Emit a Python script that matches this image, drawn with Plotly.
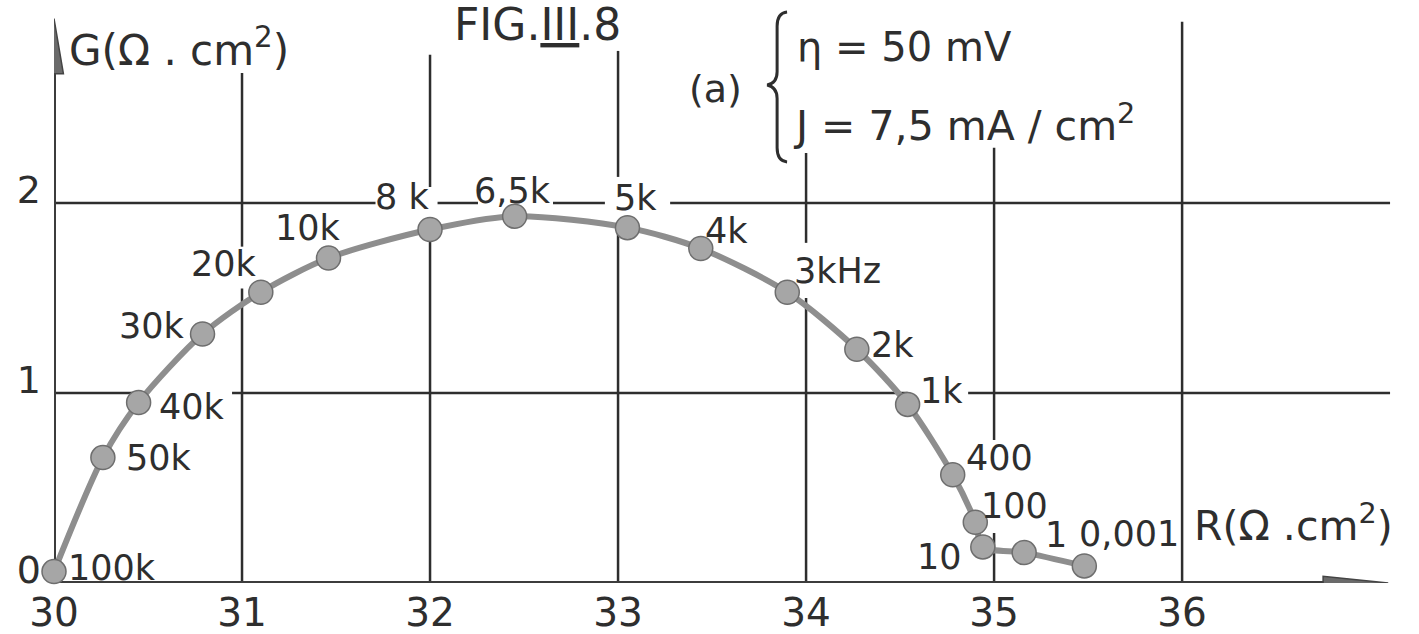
import plotly.graph_objects as go

# impedance diagram, FIG. III.8 (a)
freq_labels = ["100k", "50k", "40k", "30k", "20k", "10k", "8 k", "6,5k", "5k", "4k",
               "3kHz", "2k", "1k", "400", "100", "10", "1", "0,001"]
R_vals = [30.0, 30.26, 30.45, 30.79, 31.10, 31.46, 32.0, 32.45, 33.05, 33.44,
          33.90, 34.27, 34.54, 34.78, 34.90, 34.94, 35.16, 35.48]
G_vals = [0.06, 0.66, 0.95, 1.31, 1.53, 1.71, 1.86, 1.93, 1.87, 1.76,
          1.53, 1.23, 0.94, 0.57, 0.32, 0.19, 0.16, 0.09]
x_ticks = [30, 31, 32, 33, 34, 35, 36]
y_ticks = [0, 1, 2]

FONT = "DejaVu Sans"
INK = "#2e2e2e"

fig = go.Figure()
fig.add_trace(go.Scatter(
    x=R_vals, y=G_vals, mode="lines+markers",
    line=dict(color="#8e8e8e", width=6, shape="spline", smoothing=0.8),
    marker=dict(size=24, color="#a6a6a6", line=dict(color="#6e6e6e", width=1.5)),
    cliponaxis=False, showlegend=False, hoverinfo="skip"))

# label placement next to each point: (xanchor, xshift px, yshift px)
label_offsets = [("left", 13, 4), ("left", 22, 0), ("left", 19, -5), ("right", -17, 8),
                 ("right", -3, 28), ("center", -21, 30), ("right", 0, 33), ("center", -2, 25),
                 ("center", 8, 30), ("center", 26, 18), ("left", 6, 21), ("left", 13, 4),
                 ("left", 11, 13), ("left", 12, 17), ("left", 5, 16), ("right", -20, -10),
                 ("center", 32, 18), ("left", -6, 32)]
for lab, xv, yv, (xa, dx, dy) in zip(freq_labels, R_vals, G_vals, label_offsets):
    fig.add_annotation(x=xv, y=yv, text=lab, showarrow=False, xanchor=xa, yanchor="middle",
                       xshift=dx, yshift=dy, borderpad=0,
                       font=dict(family=FONT, size=35, color=INK))

shapes = []
# grid segments (broken where the hand-written labels sit)
h_segments = [(1, 30.0, 30.45), (1, 30.947, 34.54), (1, 34.862, 37.106),
              (2, 30.0, 31.71), (2, 32.04, 32.255), (2, 32.654, 32.93), (2, 33.277, 37.106)]
v_segments = [(31, 0, 1.55), (31, 1.77, 2.684), (32, 0, 1.86), (32, 2.084, 2.78),
              (33, 0, 1.87), (33, 2.137, 2.8), (34, 0, 1.5), (34, 1.79, 2.263),
              (35, 0, 0.263), (35, 0.753, 2.29), (36, 0, 2.953)]
for yv, x0, x1 in h_segments:
    shapes.append(dict(type="line", x0=x0, x1=x1, y0=yv, y1=yv, layer="below",
                       line=dict(color=INK, width=2.5)))
for xv, y0, y1 in v_segments:
    shapes.append(dict(type="line", x0=xv, x1=xv, y0=y0, y1=y1, layer="below",
                       line=dict(color=INK, width=2.5)))

# axes with arrow heads
shapes.append(dict(type="line", x0=30, x1=36.8, y0=0, y1=0, layer="below",
                   line=dict(color="#3c3c3c", width=4)))
shapes.append(dict(type="line", x0=30, x1=30, y0=0, y1=2.72, layer="below",
                   line=dict(color="#3c3c3c", width=4)))
shapes.append(dict(type="path", path="M 36.75,-0.03 L 37.096,0 L 36.75,0.035 Z",
                   fillcolor="#6a6a6a", line=dict(color="#444", width=1.5)))
shapes.append(dict(type="path", path="M 29.95,2.68 L 30.0,2.97 L 30.05,2.68 Z",
                   fillcolor="#6a6a6a", line=dict(color="#444", width=1.5)))
# brace
shapes.append(dict(type="path",
                   path="M 33.899,3.005 Q 33.846,3.0 33.846,2.93 L 33.846,2.69 "
                        "Q 33.846,2.63 33.793,2.621 Q 33.846,2.61 33.846,2.55 "
                        "L 33.846,2.29 Q 33.846,2.22 33.899,2.216",
                   line=dict(color=INK, width=3)))

notes = [
    dict(x=30.0, y=2.82, text="G(\u03a9 . cm<sup>2</sup>)", xanchor="left", xshift=13, size=42),
    dict(x=36.05, y=0.316, text="R(\u03a9 .cm<sup>2</sup>)", xanchor="left", xshift=0, size=41),
    dict(x=32.57, y=2.94, text="FIG.<span style='text-decoration:underline overline'>III</span>.8",
         xanchor="center", xshift=0, size=44),
    dict(x=33.52, y=2.60, text="(a)", xanchor="center", xshift=0, size=38),
    dict(x=33.94, y=2.82, text="\u03b7 = 50 mV", xanchor="left", xshift=0, size=40),
    dict(x=33.92, y=2.42, text="J = 7,5 mA / cm<sup>2</sup>", xanchor="left", xshift=0, size=41),
]
for n in notes:
    fig.add_annotation(x=n["x"], y=n["y"], text=n["text"], showarrow=False,
                       xanchor=n["xanchor"], yanchor="middle", xshift=n["xshift"],
                       font=dict(family=FONT, size=n["size"], color=INK))

fig.update_layout(
    width=1419, height=634,
    margin=dict(l=54, r=0, t=0, b=51, autoexpand=False),
    paper_bgcolor="white", plot_bgcolor="white",
    shapes=shapes,
    xaxis=dict(range=[30, 37.26], tickvals=x_ticks, ticktext=[str(v) for v in x_ticks],
               showgrid=False, zeroline=False, showline=False, ticks="",
               tickfont=dict(family=FONT, size=39, color=INK), automargin=False,
               ticklabelstandoff=3),
    yaxis=dict(range=[0, 3.068], tickvals=y_ticks, ticktext=[str(v) for v in y_ticks],
               showgrid=False, zeroline=False, showline=False, ticks="",
               tickfont=dict(family=FONT, size=38, color=INK), automargin=False,
               ticklabelstandoff=12, ticklabelshift=-13),
)

fig.write_html("out.html", config={"displayModeBar": False},
               post_script="document.body.style.margin='0';")
